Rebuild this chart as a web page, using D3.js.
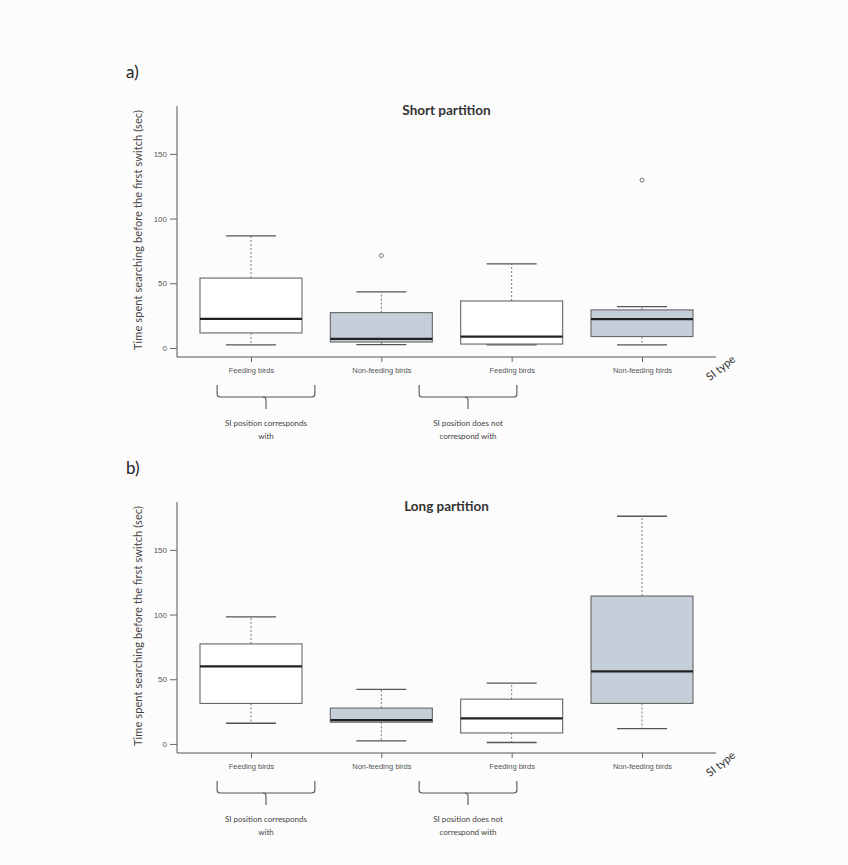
<!DOCTYPE html>
<html>
<head>
<meta charset="utf-8">
<script src="https://cdn.jsdelivr.net/npm/d3@7"></script>
<style>
  body { margin: 0; background: #fcfcfc; }
  svg { display: block; }
</style>
</head>
<body>
<svg id="chart" width="848" height="865"></svg>
<script>
// categories (SI type) and grouping
const categories = ["Feeding birds", "Non-feeding birds", "Feeding birds", "Non-feeding birds"];
const feeding = [true, false, true, false];
const groupLabels = [["SI position corresponds", "with"], ["SI position does not", "correspond with"]];
const yTicks = [0, 50, 100, 150];

// Short partition box stats (sec)
const shortLow = [2.3, 2.6, 2.3, 2.3];
const shortQ1 = [11.6, 4.6, 3.0, 8.8];
const shortMed = [22.4, 7.0, 8.8, 22.2];
const shortQ3 = [54.0, 27.3, 36.3, 29.4];
const shortHigh = [86.6, 43.3, 65.0, 32.0];
const shortOut = [[], [71.4], [], [129.7]];

// Long partition box stats (sec)
const longLow = [16.0, 2.3, 1.1, 11.9];
const longQ1 = [31.3, 16.8, 8.5, 31.3];
const longMed = [60.0, 18.4, 19.7, 56.1];
const longQ3 = [77.3, 27.7, 34.6, 114.3];
const longHigh = [98.2, 42.2, 47.0, 176.0];
const longOut = [[], [], [], []];

const svg = d3.select("#chart");
const axisLeft = 177, axisRight = 716;
const plotH = 251;

// x positions 1..4
const x = d3.scaleLinear().domain([1, 4]).range([251, 642]);
const boxHalf = 51, capHalf = 25;

function makeStats(low, q1, med, q3, high, out) {
  return categories.map((c, i) => ({
    cat: c, fed: feeding[i], pos: i + 1,
    low: low[i], q1: q1[i], med: med[i], q3: q3[i], high: high[i], out: out[i]
  }));
}

function drawPanel(top, letter, title, data) {
  const g = svg.append("g");
  const y = d3.scaleLinear().domain([-7, 187]).range([top + plotH, top]);
  const base = top + plotH;

  // panel letter
  g.append("text")
    .attr("x", 126).attr("y", top - 28)
    .attr("font-family", "Lato, 'Open Sans', sans-serif")
    .attr("font-size", 17).attr("fill", "#222")
    .text(letter);

  // title
  g.append("text")
    .attr("x", (axisLeft + axisRight) / 2).attr("y", top + 9)
    .attr("text-anchor", "middle")
    .attr("font-family", "Lato, 'Open Sans', sans-serif")
    .attr("font-weight", "bold")
    .attr("font-size", 13.5).attr("fill", "#333")
    .text(title);

  // y axis label
  g.append("text")
    .attr("transform", `translate(142,${top + 124}) rotate(-90)`)
    .attr("text-anchor", "middle")
    .attr("font-family", "Lato, 'Open Sans', sans-serif")
    .attr("font-size", 11).attr("fill", "#444")
    .attr("textLength", 240).attr("lengthAdjust", "spacing")
    .text("Time spent searching before the first switch (sec)");

  // axes lines (L shape)
  g.append("line")
    .attr("x1", axisLeft).attr("x2", axisLeft)
    .attr("y1", top).attr("y2", base)
    .attr("stroke", "#555").attr("stroke-width", 1);
  g.append("line")
    .attr("x1", axisLeft).attr("x2", axisRight)
    .attr("y1", base).attr("y2", base)
    .attr("stroke", "#555").attr("stroke-width", 1);

  // y ticks
  const yAx = g.append("g")
    .attr("transform", `translate(${axisLeft},0)`)
    .call(d3.axisLeft(y).tickValues(yTicks).tickSize(7).tickPadding(3));
  yAx.select(".domain").remove();
  yAx.selectAll("line").attr("stroke", "#666");
  yAx.selectAll("text")
    .attr("font-family", "'Liberation Sans', Arial, sans-serif")
    .attr("font-size", 8).attr("fill", "#555");

  // x ticks + labels
  const xAx = g.append("g")
    .attr("transform", `translate(0,${base})`)
    .call(d3.axisBottom(x).tickValues([1, 2, 3, 4]).tickSize(5).tickPadding(6)
      .tickFormat(d => categories[d - 1]));
  xAx.select(".domain").remove();
  xAx.selectAll("line").attr("stroke", "#666");
  xAx.selectAll("text")
    .attr("font-family", "'Liberation Sans', Arial, sans-serif")
    .attr("font-size", 7.5).attr("fill", "#555");

  // SI type
  g.append("text")
    .attr("transform", `translate(723,${base + 14}) rotate(-38)`)
    .attr("text-anchor", "middle")
    .attr("font-family", "Lato, 'Open Sans', sans-serif")
    .attr("font-size", 11).attr("fill", "#333")
    .text("SI type");

  // boxes
  const b = g.selectAll(".box").data(data).enter().append("g").attr("class", "box");

  // whiskers (dashed)
  b.append("line")
    .attr("x1", d => x(d.pos)).attr("x2", d => x(d.pos))
    .attr("y1", d => y(d.q3)).attr("y2", d => y(d.high))
    .attr("stroke", "#777").attr("stroke-dasharray", "2,2");
  b.append("line")
    .attr("x1", d => x(d.pos)).attr("x2", d => x(d.pos))
    .attr("y1", d => y(d.q1)).attr("y2", d => y(d.low))
    .attr("stroke", "#777").attr("stroke-dasharray", "2,2");

  // caps
  b.append("line")
    .attr("x1", d => x(d.pos) - capHalf).attr("x2", d => x(d.pos) + capHalf)
    .attr("y1", d => y(d.high)).attr("y2", d => y(d.high))
    .attr("stroke", "#555").attr("stroke-width", 1.3);
  b.append("line")
    .attr("x1", d => x(d.pos) - capHalf).attr("x2", d => x(d.pos) + capHalf)
    .attr("y1", d => y(d.low)).attr("y2", d => y(d.low))
    .attr("stroke", "#555").attr("stroke-width", 1.3);

  // box
  b.append("rect")
    .attr("x", d => x(d.pos) - boxHalf).attr("width", boxHalf * 2)
    .attr("y", d => y(d.q3)).attr("height", d => y(d.q1) - y(d.q3))
    .attr("fill", d => d.fed ? "#ffffff" : "#c6ced9")
    .attr("stroke", "#666").attr("stroke-width", 1.1);

  // median
  b.append("line")
    .attr("x1", d => x(d.pos) - boxHalf).attr("x2", d => x(d.pos) + boxHalf)
    .attr("y1", d => y(d.med)).attr("y2", d => y(d.med))
    .attr("stroke", "#222").attr("stroke-width", 2.2);

  // outliers
  b.selectAll(".out").data(d => d.out.map(v => ({pos: d.pos, v}))).enter()
    .append("circle")
    .attr("cx", d => x(d.pos)).attr("cy", d => y(d.v)).attr("r", 2)
    .attr("fill", "none").attr("stroke", "#666").attr("stroke-width", 0.9);

  // group brackets
  const brackets = [
    {l: 0.74, r: 1.49, c: 1.115, lab: groupLabels[0]},
    {l: 2.29, r: 3.04, c: 2.665, lab: groupLabels[1]}
  ];
  brackets.forEach(br => {
    const t = base + 28, bt = base + 40, st = base + 52;
    const xl = x(br.l), xr = x(br.r), xc = x(br.c);
    g.append("path")
      .attr("d", `M${xl},${t} L${xl},${bt - 3} Q${xl},${bt} ${xl + 3},${bt} L${xr - 3},${bt} Q${xr},${bt} ${xr},${bt - 3} L${xr},${t}`)
      .attr("fill", "none").attr("stroke", "#555").attr("stroke-width", 1.1);
    g.append("path")
      .attr("d", `M${xc - 3},${bt} Q${xc},${bt} ${xc},${bt + 3} L${xc},${st}`)
      .attr("fill", "none").attr("stroke", "#555").attr("stroke-width", 1.1);
    br.lab.forEach((s, k) => {
      g.append("text")
        .attr("x", xc).attr("y", base + 69 + k * 13)
        .attr("text-anchor", "middle")
        .attr("font-family", "Lato, 'Open Sans', sans-serif")
        .attr("font-size", 8).attr("fill", "#444")
        .text(s);
    });
  });
}

drawPanel(106, "a)", "Short partition", makeStats(shortLow, shortQ1, shortMed, shortQ3, shortHigh, shortOut));
drawPanel(502, "b)", "Long partition", makeStats(longLow, longQ1, longMed, longQ3, longHigh, longOut));
</script>
</body>
</html>
